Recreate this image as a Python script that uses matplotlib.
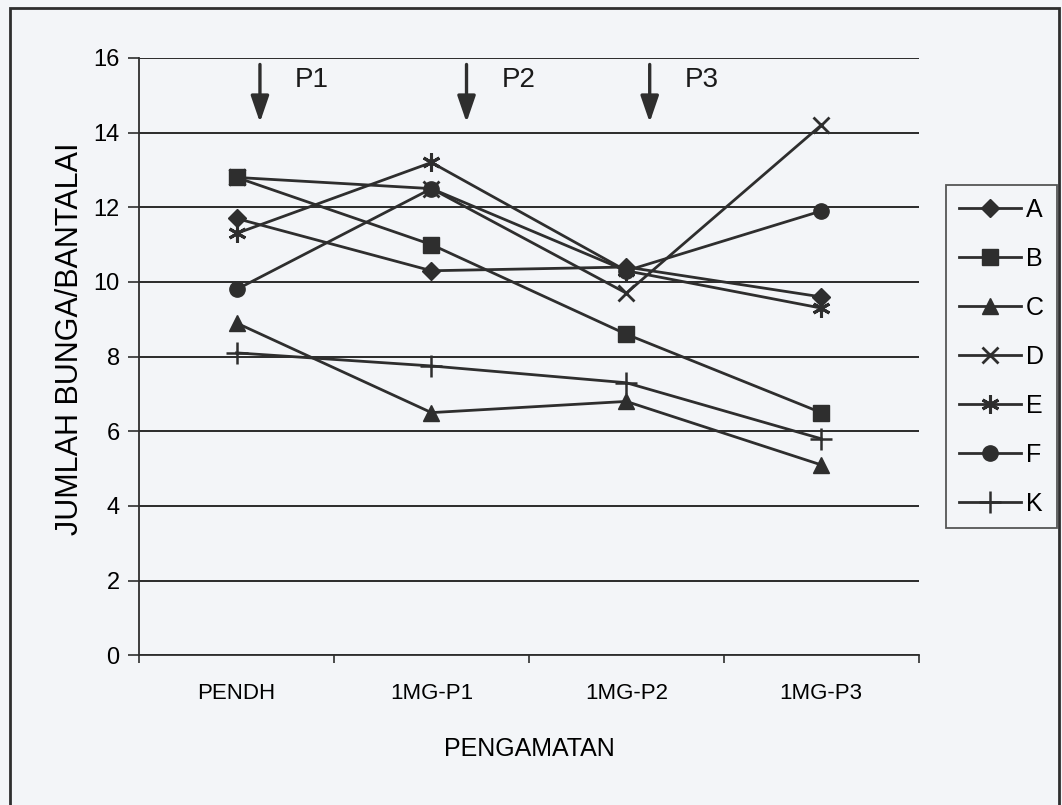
import matplotlib
matplotlib.use("Agg")
import matplotlib.pyplot as plt
import numpy as np

plt.rcParams['font.family'] = ['Liberation Sans', 'DejaVu Sans']

categories = ["PENDH", "1MG-P1", "1MG-P2", "1MG-P3"]
series_names = ["A", "B", "C", "D", "E", "F", "K"]
val_A = [11.7, 10.3, 10.4, 9.6]
val_B = [12.8, 11.0, 8.6, 6.5]
val_C = [8.9, 6.5, 6.8, 5.1]
val_D = [12.8, 12.5, 9.7, 14.2]
val_E = [11.3, 13.2, 10.3, 9.3]
val_F = [9.8, 12.5, 10.3, 11.9]
val_K = [8.1, 7.75, 7.3, 5.8]
arrow_labels = ["P1", "P2", "P3"]

ink = "#2e2e2e"
bg = "#f3f5f8"

fig = plt.figure(figsize=(10.62, 8.05), dpi=100, facecolor=bg)
ax = fig.add_axes([0.131, 0.186, 0.734, 0.742])
ax.set_facecolor(bg)

x = np.arange(len(categories))
markers = {"A": dict(marker="D", ms=9),
           "B": dict(marker="s", ms=11),
           "C": dict(marker="^", ms=11),
           "D": dict(marker="x", ms=12, mew=2),
           "E": dict(marker=(6, 2, 0), ms=13, mew=2.2),
           "F": dict(marker="o", ms=11),
           "K": dict(marker="+", ms=16, mew=1.8)}
values = [val_A, val_B, val_C, val_D, val_E, val_F, val_K]
for name, vals in zip(series_names, values):
    ax.plot(x, vals, color=ink, lw=2, label=name, **markers[name])

ax.set_xlim(-0.5, 3.5)
ax.set_ylim(0, 16)
ax.set_yticks(range(0, 17, 2))
ax.yaxis.grid(True, color="#1a1a1a", lw=1.3)
ax.set_axisbelow(True)
ax.set_xticks(x)
ax.set_xticklabels(categories, fontsize=16)
ax.set_xticks(np.arange(-0.5, 4, 1), minor=True)
ax.tick_params(axis="x", which="major", length=0, pad=20)
ax.tick_params(axis="x", which="minor", length=6, width=1.2, color=ink)
ax.tick_params(axis="y", labelsize=17, length=8, width=1.2, color=ink, pad=6)
for s in ["top", "right"]:
    ax.spines[s].set_visible(False)
for s in ["left", "bottom"]:
    ax.spines[s].set_color(ink)
    ax.spines[s].set_linewidth(1.3)

ax.set_xlabel("PENGAMATAN", fontsize=18, labelpad=24)
ax.set_ylabel("JUMLAH BUNGA/BANTALAI", fontsize=22, labelpad=6)
ax.yaxis.label.set_y(0.53)

# treatment arrows
arrow_x = [0.12, 1.18, 2.12]
for ax_x, lab in zip(arrow_x, arrow_labels):
    ax.annotate("", xy=(ax_x, 14.2), xytext=(ax_x, 15.9),
                arrowprops=dict(arrowstyle="-|>,head_width=0.55,head_length=1.6",
                                color=ink, lw=2.4))
    ax.text(ax_x + 0.18, 15.4, lab, fontsize=20, color="#1a1a1a", va="center")

leg = ax.legend(loc="upper left", bbox_to_anchor=(0.891, 0.77),
                bbox_transform=fig.transFigure, fontsize=18, frameon=True,
                fancybox=False, edgecolor=ink, facecolor=bg,
                labelspacing=1.0, handlelength=2.5, handletextpad=0.2,
                borderpad=0.5, borderaxespad=0)
leg.get_frame().set_linewidth(1.3)

# outer frame of the chart
fig.patches.append(plt.Rectangle((0.009, -0.01), 0.988, 1.0, transform=fig.transFigure,
                                 fill=False, edgecolor=ink, lw=2))

fig.savefig("out.png", dpi=100, facecolor=bg)
